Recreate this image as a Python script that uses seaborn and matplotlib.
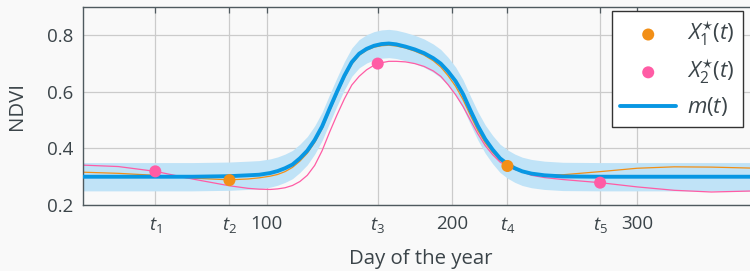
import numpy as np
import pandas as pd
import matplotlib
matplotlib.use("Agg")
import matplotlib.pyplot as plt
import seaborn as sns

# Valores
days = [1, 20, 40, 60, 80, 90, 96, 102, 106, 110, 114, 118, 122, 126, 130,
        134, 138, 142, 146, 150, 154, 158, 162, 166, 170, 175, 180, 185, 190,
        194, 198, 202, 206, 210, 214, 218, 222, 226, 230, 234, 238, 243, 250,
        260, 280, 300, 320, 340, 365]
m_vals = [0.300, 0.300, 0.300, 0.300, 0.302, 0.305, 0.307, 0.313, 0.320, 0.330,
          0.343, 0.365, 0.392, 0.430, 0.478, 0.540, 0.600, 0.657, 0.705, 0.735,
          0.752, 0.763, 0.769, 0.771, 0.768, 0.760, 0.750, 0.737, 0.719, 0.700,
          0.672, 0.638, 0.593, 0.535, 0.480, 0.433, 0.396, 0.365, 0.345, 0.330,
          0.319, 0.311, 0.305, 0.301, 0.300, 0.300, 0.300, 0.300, 0.300]
x1_vals = [0.316, 0.312, 0.305, 0.295, 0.289, 0.292, 0.296, 0.302, 0.308, 0.318,
           0.333, 0.355, 0.383, 0.421, 0.470, 0.532, 0.592, 0.650, 0.698, 0.729,
           0.747, 0.758, 0.763, 0.765, 0.762, 0.755, 0.744, 0.730, 0.710, 0.688,
           0.657, 0.620, 0.573, 0.517, 0.464, 0.420, 0.386, 0.358, 0.338, 0.326,
           0.317, 0.310, 0.306, 0.307, 0.318, 0.330, 0.335, 0.334, 0.330]
x2_vals = [0.341, 0.336, 0.319, 0.292, 0.268, 0.259, 0.256, 0.255, 0.257, 0.261,
           0.269, 0.283, 0.305, 0.340, 0.392, 0.457, 0.518, 0.575, 0.624, 0.655,
           0.678, 0.694, 0.703, 0.708, 0.708, 0.706, 0.700, 0.690, 0.674, 0.655,
           0.625, 0.590, 0.549, 0.500, 0.452, 0.410, 0.378, 0.352, 0.336, 0.326,
           0.317, 0.305, 0.297, 0.290, 0.279, 0.264, 0.252, 0.246, 0.250]
band = 0.05

t_days = [40, 80, 160, 230, 280]
t_labels = ["$t_1$", "$t_2$", "$t_3$", "$t_4$", "$t_5$"]
x1_days = [80, 230]
x1_pts = [0.288, 0.338]
x2_days = [40, 160, 280]
x2_pts = [0.319, 0.700, 0.279]

c_blue = "#0897e3"
c_band = "#c0e3f7"
c_orange = "#f28f17"
c_pink = "#ff5ca5"
c_text = "#3b4449"
c_spine = "#4f5a5f"

sns.set_style("whitegrid")
plt.rcParams["font.family"] = ["Open Sans", "DejaVu Sans"]
plt.rcParams["mathtext.fontset"] = "custom"
plt.rcParams["mathtext.rm"] = "Open Sans"
plt.rcParams["mathtext.it"] = "Open Sans:italic"
plt.rcParams["mathtext.bf"] = "Open Sans:bold"

df = pd.DataFrame({"day": days, "m": m_vals, "x1": x1_vals, "x2": x2_vals})
df["lo"] = df["m"] - band
df["hi"] = df["m"] + band

fig = plt.figure(figsize=(7.5, 2.71), dpi=100, facecolor="#f9f9f9")
ax = fig.add_axes([0.1107, 0.2435, 0.8995, 0.7306])
ax.set_facecolor("#f9f9f9")

ax.fill_between(df["day"], df["lo"], df["hi"], color=c_band, lw=0, zorder=1)
sns.lineplot(data=df, x="day", y="x1", color=c_orange, lw=0.9, ax=ax, zorder=2)
sns.lineplot(data=df, x="day", y="x2", color=c_pink, lw=0.9, ax=ax, zorder=2)
sns.lineplot(data=df, x="day", y="m", color=c_blue, lw=2.8, ax=ax, zorder=3,
             label="$m(t)$")
sns.scatterplot(x=x1_days, y=x1_pts, color=c_orange, s=75, edgecolor="none",
                ax=ax, zorder=4, label="$X_1^{\\star}(t)$")
sns.scatterplot(x=x2_days, y=x2_pts, color=c_pink, s=75, edgecolor="none",
                ax=ax, zorder=4, label="$X_2^{\\star}(t)$")

ax.set_xlim(1, 365)
ax.set_ylim(0.2, 0.9)
ax.set_xticks(t_days + [100, 200, 300])
ax.set_xticklabels(t_labels + ["100", "200", "300"])
ax.set_yticks([0.2, 0.4, 0.6, 0.8])
ax.set_yticklabels(["0.2", "0.4", "0.6", "0.8"])
ax.grid(True, color="#cbcbcb", lw=0.9)
ax.tick_params(direction="in", length=4, width=0.9, color=c_spine,
               labelcolor=c_text, labelsize=13.5, top=True, right=True, pad=7)
for s in ax.spines.values():
    s.set_color(c_spine)
    s.set_linewidth(1.0)
ax.set_xlabel("Day of the year", fontsize=14.7, color=c_text, labelpad=10)
ax.set_ylabel("NDVI", fontsize=14.7, color=c_text, labelpad=14)

h, l = ax.get_legend_handles_labels()
order = [l.index("$X_1^{\\star}(t)$"), l.index("$X_2^{\\star}(t)$"), l.index("$m(t)$")]
leg = ax.legend([h[i] for i in order], [l[i] for i in order], loc="upper right",
                bbox_to_anchor=(0.979, 0.98), borderaxespad=0, fontsize=16,
                frameon=True, fancybox=False, edgecolor="#333333",
                facecolor="white", framealpha=1, labelcolor=c_text,
                handlelength=2.5, handletextpad=0.5, borderpad=0.4,
                labelspacing=0.42)
leg.get_frame().set_linewidth(1.0)

plt.savefig("out.png", dpi=100, facecolor=fig.get_facecolor())
